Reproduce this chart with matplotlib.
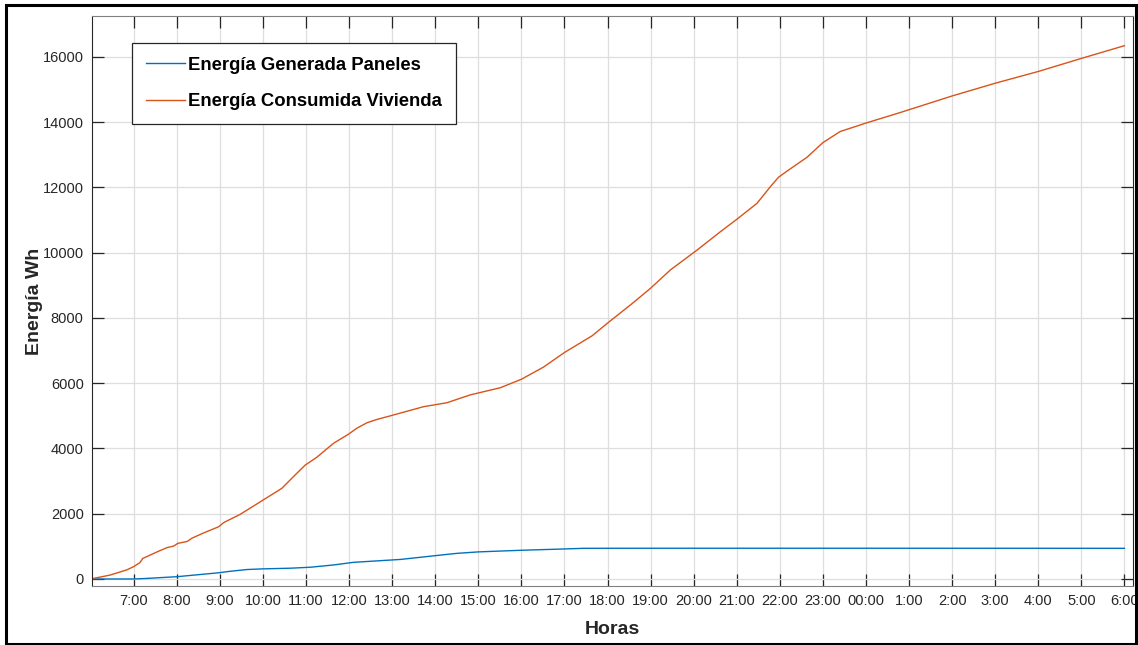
import matplotlib.pyplot as plt
from matplotlib.patches import Rectangle

plt.rcParams['font.family'] = ['Liberation Sans', 'DejaVu Sans']

# --- datos (horas decimales desde las 6:00) ---
horas_consumo = [6.0, 6.45, 6.84, 7.0, 7.14, 7.21, 7.54, 7.77, 7.93, 8.02, 8.24, 8.35,
                 8.62, 8.97, 9.09, 9.47, 9.98, 10.44, 10.71, 10.98, 11.25, 11.64, 11.99,
                 12.18, 12.42, 12.65, 12.96, 13.73, 14.27, 14.81, 15.51, 16.0, 16.51,
                 17.0, 17.64, 18.0, 18.6, 19.0, 19.46, 20.08, 20.61, 21.0, 21.47, 21.78,
                 21.97, 22.17, 22.63, 23.0, 23.4, 24.0, 24.79, 26.0, 27.0, 28.0, 29.0, 30.0]
energia_consumo = [0, 120, 280, 380, 500, 630, 830, 960, 1010, 1090, 1150, 1250,
                   1410, 1600, 1730, 1980, 2400, 2780, 3140, 3490, 3730, 4160, 4440,
                   4620, 4790, 4890, 5000, 5280, 5400, 5640, 5860, 6120, 6490,
                   6940, 7450, 7840, 8470, 8910, 9470, 10080, 10630, 11020, 11510, 12020,
                   12310, 12500, 12920, 13370, 13710, 13970, 14290, 14800, 15190, 15550,
                   15950, 16340]

horas_paneles = [6.0, 7.0, 7.27, 8.0, 8.97, 9.2, 9.63, 10.0, 10.63, 11.1, 11.64, 12.1,
                 12.96, 13.2, 14.0, 14.5, 15.0, 16.0, 17.0, 17.45, 19.2, 24.0, 30.0]
energia_paneles = [0, 0, 15, 70, 190, 230, 290, 310, 330, 360, 430, 510,
                   580, 600, 715, 785, 830, 880, 920, 940, 942, 942, 940]

ticks_horas = list(range(7, 31))
etiquetas = ['7:00', '8:00', '9:00', '10:00', '11:00', '12:00', '13:00', '14:00',
             '15:00', '16:00', '17:00', '18:00', '19:00', '20:00', '21:00', '22:00',
             '23:00', '00:00', '1:00', '2:00', '3:00', '4:00', '5:00', '6:00']

fig = plt.figure(figsize=(11.38, 6.45), dpi=100)
ax = fig.add_axes([92 / 1138, 1 - 586 / 645, (1133 - 92) / 1138, (586 - 16) / 645])

ax.plot(horas_paneles, energia_paneles, color='#0072BD', lw=1.0,
        label='Energía Generada Paneles')
ax.plot(horas_consumo, energia_consumo, color='#D95319', lw=1.0,
        label='Energía Consumida Vivienda')

ax.set_xlim(6.03, 30.2)
ax.set_ylim(-215, 17250)
ax.set_xticks(ticks_horas)
ax.set_xticklabels(etiquetas)
ax.set_yticks(range(0, 16001, 2000))

ax.grid(True, color='#dedede', lw=0.9)
ax.set_axisbelow(True)
ax.tick_params(direction='in', length=8.5, width=0.9, top=True, right=True,
               labelsize=10.5, colors='#262626', pad=6)
for s in ['left', 'right']:
    ax.spines[s].set_color('#262626')
for s in ['top', 'bottom']:
    ax.spines[s].set_color('#808080')

ax.set_xlabel('Horas', fontsize=14, fontweight='bold', color='#262626', labelpad=9)
ax.set_ylabel('Energía Wh', fontsize=14, fontweight='bold', color='#262626', labelpad=0)

leg = ax.legend(loc='upper left', bbox_to_anchor=(40 / 1041, 1 - 27 / 570),
                borderaxespad=0, fancybox=False, framealpha=1,
                prop={'weight': 'bold', 'size': 13.3},
                handlelength=2.1, handletextpad=0.2, labelspacing=1.05,
                borderpad=0.75)
leg.get_frame().set_edgecolor('#262626')
leg.get_frame().set_linewidth(0.9)

# marco exterior
fig.patches.append(Rectangle((6 / 1138, 1 / 645), 1130 / 1138, 639 / 645,
                             transform=fig.transFigure, fill=False,
                             edgecolor='black', lw=2.2))

fig.savefig('out.png', dpi=100)
